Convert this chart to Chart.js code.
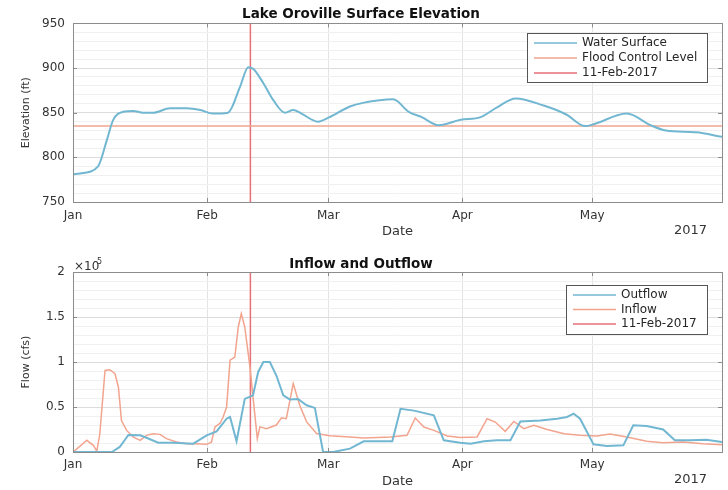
<!DOCTYPE html>
<html>
<head>
<meta charset="utf-8">
<script src="https://cdn.jsdelivr.net/npm/chart.js@4"></script>
<style>
  body { margin: 0; background: #fff; }
  .box { position: absolute; left: 0; width: 728px; height: 245px; }
</style>
</head>
<body>
<div class="box" style="top:0"><canvas id="elev"></canvas></div>
<div class="box" style="top:245px"><canvas id="flow"></canvas></div>
<script>
// x values are days since 1 Jan 2017
const monthDays = [0, 31, 59, 90, 120];
const monthLabels = ['Jan', 'Feb', 'Mar', 'Apr', 'May'];
const eventDay = 41; // 11-Feb-2017

const elevDays = [0, 1.6, 5.8, 7.8, 9.3, 11.6, 13.9, 16.2, 18.6, 22.4, 26.3, 29.4, 32.3, 35.8, 38.6, 40.5, 41.7, 44, 46.3, 49,
  50.9, 52.8, 56.6, 59.3, 64, 67, 74, 77.6, 80.6, 84.5, 89.6, 94.2, 98, 102.3, 108.8, 114, 118.4, 120.3, 128, 133.5, 137, 144, 150];
const elevValues = [781, 782, 790, 819, 842, 851, 852, 850, 850, 855, 855, 853, 849, 850, 879, 901, 899, 883, 864, 850,
  853, 849, 840, 845, 857, 861, 865, 851, 845, 836, 842, 845, 856, 866, 858, 848, 835, 837, 849, 836, 830, 828, 823];
const floodLevel = 835;
const elevTicks = [750, 800, 850, 900, 950];

const outDays = [0, 9, 10.8, 12.8, 15.5, 17.4, 19.7, 23.2, 27.8, 30.9, 33.2, 35.5, 36.3, 37.8, 39.7, 41.6, 42.8, 44, 45.5, 47,
  48.6, 50.1, 52, 54, 55.9, 57.8, 60.1, 64, 67.2, 73.8, 75.7, 78.8, 83.4, 85.7, 89.5, 91.9, 95, 98, 101.1, 103.4,
  108, 111.9, 114.2, 115.7, 117.2, 120.3, 123.4, 127.2, 129.5, 132.6, 136.4, 139.1, 142.6, 146.4, 150];
const outValues = [0, 0, 5600, 19000, 18500, 15000, 10400, 10400, 9300, 18500, 23000, 37000, 39000, 12000, 59000, 63000, 89000, 100000, 100000, 85000,
  63000, 58500, 59000, 52000, 49000, 0, 0, 3700, 11900, 11900, 48000, 46000, 40700, 13000, 10400, 9300, 11900, 13000, 13000, 34000,
  35000, 37000, 39000, 42600, 37000, 8500, 6700, 7400, 29600, 29000, 25000, 13000, 13000, 13700, 11100];

const inDays = [0, 0.5, 3.2, 4.7, 5.5, 6.2, 7.4, 8.5, 9.7, 10.5, 11.2, 12.4, 13.9, 15.5, 17, 18.5, 20.1, 21.6, 23.9, 26.3,
  28.6, 30.9, 32, 32.8, 34, 34.7, 35.5, 36.3, 37.4, 38.2, 38.9, 39.7, 40.9, 42, 42.6, 43.2, 44.7, 47, 48.2, 49.3,
  50.9, 52.4, 54, 56.3, 59.4, 64, 67.2, 73.4, 77.2, 79.1, 81.1, 83.4, 86.5, 89.5, 93.4, 95.7, 97.6, 99.9, 101.9, 104.2,
  106.5, 109.6, 113.5, 117.2, 121.1, 124.1, 128, 132.6, 136.4, 141, 145.6, 150];
const inValues = [1000, 1800, 13000, 7400, 1000, 20000, 90700, 91500, 87000, 72000, 35000, 24000, 16700, 13000, 18500, 20400, 19600, 14800, 11100, 9300,
  9300, 8500, 11000, 27800, 32000, 38900, 50000, 102000, 105600, 139000, 153700, 139000, 94400, 42600, 15000, 28000, 26000, 30000, 38000, 37000,
  76000, 52000, 33500, 20500, 18000, 16800, 15500, 16700, 18500, 37800, 27800, 24000, 17800, 16000, 16700, 37000, 33300, 23000, 34000, 26000,
  29600, 25000, 20400, 18500, 17800, 20000, 16700, 11900, 10400, 11100, 9300, 8100];
const flowTicks = [0, 50000, 100000, 150000, 200000];

const BLUE = '#72b7d2', SALMON = '#f2a48e', RED = '#e66f78';
const FONT = '"DejaVu Sans", Verdana, sans-serif';
Chart.defaults.font.family = FONT;

const pts = (xs, ys) => xs.map((x, i) => ({ x: x, y: ys[i] }));

// box, inward ticks, legend and extra labels (MATLAB style)
const decor = {
  id: 'decor',
  afterDraw(chart, args, o) {
    const { ctx, chartArea: a, scales } = chart;
    ctx.save();
    ctx.strokeStyle = '#8c8c8c';
    ctx.lineWidth = 1;
    ctx.strokeRect(Math.round(a.left) + 0.5, Math.round(a.top) + 0.5, Math.round(a.width), Math.round(a.height));
    ctx.beginPath();
    o.majors.forEach(v => {
      const y = Math.round(scales.y.getPixelForValue(v)) + 0.5;
      ctx.moveTo(a.left, y); ctx.lineTo(a.left + 4, y);
      ctx.moveTo(a.right, y); ctx.lineTo(a.right - 4, y);
    });
    monthDays.forEach(v => {
      const x = Math.round(scales.x.getPixelForValue(v)) + 0.5;
      ctx.moveTo(x, a.bottom); ctx.lineTo(x, a.bottom - 4);
      ctx.moveTo(x, a.top); ctx.lineTo(x, a.top + 4);
    });
    ctx.stroke();

    // legend
    const L = o.legend;
    ctx.fillStyle = '#fff';
    ctx.fillRect(L.left, L.top, L.width, L.height);
    ctx.strokeStyle = '#555';
    ctx.strokeRect(L.left + 0.5, L.top + 0.5, L.width, L.height);
    ctx.font = '12px ' + FONT;
    ctx.textBaseline = 'middle';
    ctx.textAlign = 'left';
    chart.data.datasets.forEach((ds, i) => {
      const y = L.top + L.first + i * L.step;
      ctx.strokeStyle = ds.borderColor;
      ctx.lineWidth = 1.5;
      ctx.beginPath();
      ctx.moveTo(L.left + 7, y); ctx.lineTo(L.left + 50, y);
      ctx.stroke();
      ctx.fillStyle = '#262626';
      ctx.fillText(ds.label, L.left + 55, y);
    });

    // year label under the right end of the axis
    ctx.fillStyle = '#333';
    ctx.font = '13px ' + FONT;
    ctx.textAlign = 'right';
    ctx.fillText('2017', a.right - 15, o.yearY);

    if (o.exponent) {
      ctx.font = '12px ' + FONT;
      ctx.textAlign = 'left';
      ctx.fillText('\u00d710', a.left + 1, a.top - 5);
      ctx.font = '8px ' + FONT;
      ctx.fillText('5', a.left + 24, a.top - 10);
    }
    ctx.restore();
  }
};

function xAxis(height, datePad, tickPad) {
  return {
    type: 'linear', min: 0, max: 150,
    afterBuildTicks: s => { s.ticks = monthDays.map(v => ({ value: v })); },
    afterFit: s => { s.height = height; },
    ticks: {
      autoSkip: false, maxRotation: 0, padding: tickPad, color: '#333', font: { size: 12 },
      callback: v => monthLabels[monthDays.indexOf(v)] || ''
    },
    grid: { color: '#e4e4e4', drawTicks: false },
    border: { display: false },
    title: { display: true, text: 'Date', color: '#333', font: { size: 13 }, padding: { top: 0, bottom: datePad } }
  };
}

function yAxis(min, max, step, majors, label, fmt) {
  return {
    min: min, max: max,
    afterBuildTicks: s => {
      const t = [];
      for (let v = min; v <= max; v += step) t.push({ value: v });
      s.ticks = t;
    },
    afterFit: s => { s.width = 73; },
    ticks: {
      autoSkip: false, padding: 8, color: '#333', font: { size: 12 },
      callback: v => majors.includes(v) ? fmt(v) : ''
    },
    grid: {
      drawTicks: false,
      color: c => majors.includes(c.tick.value) ? '#dcdcdc' : '#f0f0f0'
    },
    border: { display: false },
    title: { display: true, text: label, color: '#333', font: { size: 11 }, padding: { top: 20, bottom: 0 } }
  };
}

function titleOpts(text, top, bottom) {
  return {
    display: true, text: text, color: '#111',
    font: { size: 13.5, weight: 'bold' }, padding: { top: top, bottom: bottom }
  };
}

new Chart(document.getElementById('elev'), {
  type: 'line',
  data: {
    datasets: [
      { label: 'Water Surface', data: pts(elevDays, elevValues), borderColor: BLUE, borderWidth: 2, cubicInterpolationMode: 'monotone' },
      { label: 'Flood Control Level', data: [{ x: 0, y: floodLevel }, { x: 150, y: floodLevel }], borderColor: SALMON, borderWidth: 1.5 },
      { label: '11-Feb-2017', data: [{ x: eventDay, y: 750 }, { x: eventDay, y: 950 }], borderColor: RED, borderWidth: 1.5 }
    ]
  },
  options: {
    responsive: true, maintainAspectRatio: false, animation: false,
    layout: { padding: { left: 0, right: 6, top: 0, bottom: 0 } },
    elements: { point: { radius: 0 } },
    scales: {
      x: xAxis(43, 5.5, 7),
      y: yAxis(750, 950, 10, elevTicks, 'Elevation (ft)', v => String(v))
    },
    plugins: {
      legend: { display: false },
      tooltip: { enabled: false },
      title: titleOpts('Lake Oroville Surface Elevation', 6, 1.2),
      decor: { majors: elevTicks, yearY: 231, legend: { left: 527, top: 33, width: 180, height: 49, first: 10, step: 15 } }
    }
  },
  plugins: [decor]
});

new Chart(document.getElementById('flow'), {
  type: 'line',
  data: {
    datasets: [
      { label: 'Outflow', data: pts(outDays, outValues), borderColor: BLUE, borderWidth: 2 },
      { label: 'Inflow', data: pts(inDays, inValues), borderColor: SALMON, borderWidth: 1.5 },
      { label: '11-Feb-2017', data: [{ x: eventDay, y: 0 }, { x: eventDay, y: 200000 }], borderColor: RED, borderWidth: 1.5 }
    ]
  },
  options: {
    responsive: true, maintainAspectRatio: false, animation: false,
    layout: { padding: { left: 0, right: 6, top: 0, bottom: 0 } },
    elements: { point: { radius: 0 } },
    scales: {
      x: xAxis(38, 0.3, 6),
      y: yAxis(0, 200000, 10000, flowTicks, 'Flow (cfs)', v => String(v / 100000))
    },
    plugins: {
      legend: { display: false },
      tooltip: { enabled: false },
      title: titleOpts('Inflow and Outflow', 10.9, 0),
      decor: { majors: flowTicks, yearY: 235, exponent: true, legend: { left: 566, top: 40, width: 141, height: 49, first: 10, step: 14.5 } }
    }
  },
  plugins: [decor]
});
</script>
</body>
</html>
